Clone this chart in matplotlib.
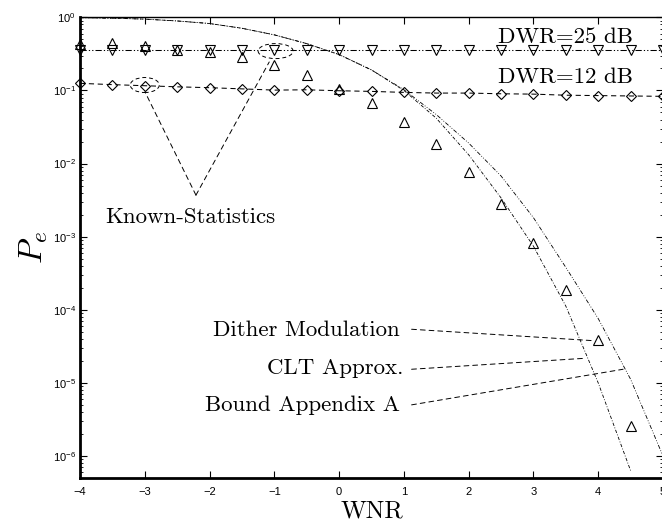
import numpy as np
import matplotlib
matplotlib.use("Agg")
import matplotlib.pyplot as plt
import matplotlib.transforms as mtransforms
from matplotlib.patches import Ellipse

# ---------------- data ----------------
x_sim = [-4, -3.5, -3, -2.5, -2, -1.5, -1, -0.5, 0, 0.5, 1, 1.5, 2, 2.5, 3, 3.5, 4, 4.5, 5]
known_25 = [0.355, 0.355, 0.355, 0.355, 0.355, 0.355, 0.355, 0.355, 0.355, 0.355,
            0.355, 0.355, 0.355, 0.355, 0.355, 0.355, 0.355, 0.355, 0.355]
known_12 = [0.125, 0.120, 0.116, 0.112, 0.109, 0.105, 0.101, 0.102, 0.099, 0.097,
            0.094, 0.092, 0.092, 0.090, 0.089, 0.086, 0.085, 0.084, 0.083]

x_dm = [-4, -3.5, -3, -2.5, -2, -1.5, -1, -0.5, 0, 0.5, 1, 1.5, 2, 2.5, 3, 3.5, 4, 4.5]
dither_mod = [0.43, 0.44, 0.40, 0.36, 0.335, 0.285, 0.221, 0.160, 0.106, 0.068,
              0.037, 0.0184, 0.0076, 0.0028, 8.1e-4, 1.86e-4, 3.9e-5, 2.6e-6]

x_clt = [-4, -3.5, -3, -2.5, -2, -1.5, -1, -0.5, 0, 0.5, 1, 1.5, 2, 2.5, 3, 3.5, 4, 4.5]
clt_log10 = [-0.005, -0.012, -0.025, -0.05, -0.085, -0.15, -0.24, -0.36, -0.51, -0.72,
             -1.00, -1.38, -1.88, -2.47, -3.13, -3.95, -5.0, -6.2]

x_bound = [-4, -3.5, -3, -2.5, -2, -1.5, -1, -0.5, 0, 0.5, 1, 1.5, 2, 2.5, 3, 3.5, 4, 4.5, 5]
bound_log10 = [-0.005, -0.012, -0.025, -0.05, -0.085, -0.15, -0.24, -0.36, -0.51, -0.72,
               -0.99, -1.33, -1.72, -2.17, -2.74, -3.42, -4.12, -4.95, -6.0]

xticks = [-4, -3, -2, -1, 0, 1, 2, 3, 4, 5]
xticklabels = ['\u22124', '\u22123', '\u22122', '\u22121', '0', '1', '2', '3', '4', '5']
yexp = [-6, -5, -4, -3, -2, -1, 0]

# ---------------- style ----------------
plt.rcParams['font.family'] = ['Liberation Sans', 'DejaVu Sans']
plt.rcParams['mathtext.fontset'] = 'cm'
SERIF = 'cmr10'

fig = plt.figure(figsize=(6.62, 5.30), dpi=100)
ax = fig.add_axes([80 / 662, 1 - 477.7 / 530, 583 / 662, (477.7 - 17.3) / 530])

lw = 0.75
ax.plot(x_sim, known_25, color='k', lw=lw, linestyle=(0, (6, 2, 1.2, 2, 1.2, 2)),
        marker='v', ms=7, mfc='none', mec='k', mew=0.8, clip_on=False, zorder=3)
ax.plot(x_sim, known_12, color='k', lw=lw, linestyle=(0, (5, 3.5)),
        marker='D', ms=5.5, mfc='none', mec='k', mew=0.8, clip_on=False, zorder=3)
ax.plot(x_dm, dither_mod, color='k', lw=0, linestyle='none',
        marker='^', ms=7, mfc='none', mec='k', mew=0.8, clip_on=False, zorder=3)
ax.plot(x_clt, 10 ** np.array(clt_log10), color='k', lw=0.6,
        linestyle=(0, (4, 2, 1, 2)), zorder=2)
ax.plot(x_bound, 10 ** np.array(bound_log10), color='k', lw=0.6,
        linestyle=(0, (5, 2, 1, 2, 1, 2)), zorder=2)

ax.set_yscale('log')
ax.set_xlim(-4, 5)
ax.set_ylim(10 ** -6.296, 1)
ax.set_xticks(xticks)
ax.set_xticklabels(xticklabels)
ax.set_yticks([10.0 ** e for e in yexp])
ax.set_yticklabels([r'$\mathregular{10^{%d}}$' % e for e in yexp])
ax.yaxis.set_minor_locator(matplotlib.ticker.LogLocator(base=10, subs=np.arange(2, 10), numticks=20))
ax.yaxis.set_minor_formatter(matplotlib.ticker.NullFormatter())

ax.tick_params(which='both', direction='in', top=True, right=True, labelsize=8)
ax.tick_params(which='major', length=5, width=0.8)
ax.tick_params(which='minor', length=2.5, width=0.6)
ax.tick_params(axis='x', pad=7)
ax.tick_params(axis='y', pad=3)
for s in ['left', 'bottom']:
    ax.spines[s].set_linewidth(2.0)
for s in ['top', 'right']:
    ax.spines[s].set_linewidth(1.0)

ax.set_xlabel('WNR', fontsize=18, family=SERIF, labelpad=2)
ax.set_ylabel(r'$P_e$', fontsize=24, labelpad=2)

# ---------------- annotations ----------------
tfs = 16.5
ax.text(4.54, 10 ** -0.269, 'DWR=25 dB', family=SERIF, fontsize=tfs, ha='right', va='center')
ax.text(4.54, 10 ** -0.824, 'DWR=12 dB', family=SERIF, fontsize=tfs, ha='right', va='center')
ax.text(-3.614, 10 ** -2.728, 'Known-Statistics', family=SERIF, fontsize=tfs, ha='left', va='center')
ax.text(0.938, 10 ** -4.276, 'Dither Modulation', family=SERIF, fontsize=tfs, ha='right', va='center')
ax.text(0.985, 10 ** -4.799, 'CLT Approx.', family=SERIF, fontsize=tfs, ha='right', va='center')
ax.text(0.938, 10 ** -5.30, 'Bound Appendix A', family=SERIF, fontsize=tfs, ha='right', va='center')

dash = dict(arrowstyle='-', linestyle=(0, (5, 4)), lw=0.7, color='k',
            shrinkA=0, shrinkB=0)
ax.annotate('', xy=(3.921, 10 ** -4.422), xytext=(1.119, 10 ** -4.266), arrowprops=dash)
ax.annotate('', xy=(3.793, 10 ** -4.663), xytext=(1.119, 10 ** -4.813), arrowprops=dash)
ax.annotate('', xy=(4.384, 10 ** -4.813), xytext=(1.119, 10 ** -5.30), arrowprops=dash)
ax.annotate('', xy=(-2.997, 10 ** -1.020), xytext=(-2.21, 10 ** -2.432), arrowprops=dash)
ax.annotate('', xy=(-1.079, 10 ** -0.611), xytext=(-2.21, 10 ** -2.432), arrowprops=dash)

for (cx, cy, w, h) in [(-3.0, 10 ** -0.926, 0.29, 0.15), (-0.98, 10 ** -0.462, 0.35, 0.15)]:
    trans = fig.dpi_scale_trans + mtransforms.ScaledTranslation(cx, cy, ax.transData)
    ax.add_patch(Ellipse((0, 0), w, h, transform=trans, fill=False, ec='k', lw=0.7,
                         linestyle=(0, (4, 3))))

fig.savefig('out.png', dpi=100)
